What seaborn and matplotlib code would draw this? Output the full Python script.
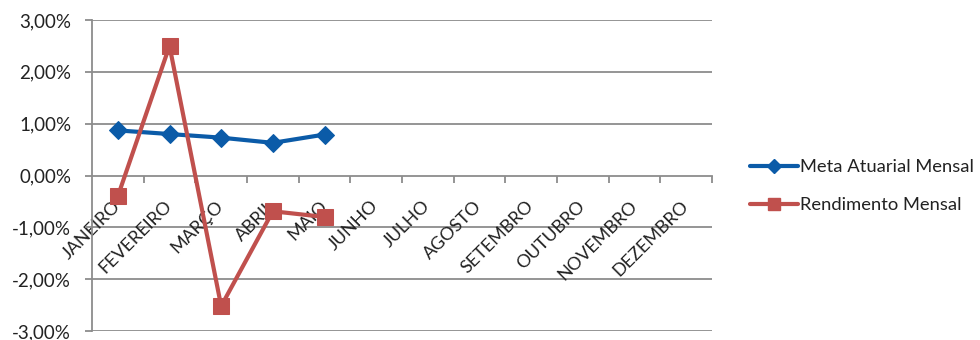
import numpy as np
import pandas as pd
import matplotlib
matplotlib.use("Agg")
import matplotlib.pyplot as plt
from matplotlib.ticker import FixedLocator, FuncFormatter
import seaborn as sns

meses = ["JANEIRO", "FEVEREIRO", "MARÇO", "ABRIL", "MAIO", "JUNHO", "JULHO",
         "AGOSTO", "SETEMBRO", "OUTUBRO", "NOVEMBRO", "DEZEMBRO"]
meta_atuarial = [0.87, 0.80, 0.73, 0.63, 0.79]
rendimento = [-0.40, 2.50, -2.52, -0.69, -0.80]
series_nomes = ["Meta Atuarial Mensal", "Rendimento Mensal"]
y_ticks = [-3, -2, -1, 0, 1, 2, 3]

sns.set_theme(style="white")
plt.rcParams["font.family"] = ["Lato", "DejaVu Sans"]

df = pd.concat([
    pd.DataFrame({"pos": np.arange(len(meta_atuarial)), "valor": meta_atuarial,
                  "serie": series_nomes[0]}),
    pd.DataFrame({"pos": np.arange(len(rendimento)), "valor": rendimento,
                  "serie": series_nomes[1]}),
], ignore_index=True)

fig = plt.figure(figsize=(9.8, 3.4), dpi=100)
ax = fig.add_axes([92 / 980, 9 / 340, 620 / 980, 311 / 340])

cores = {series_nomes[0]: "#0B5BA8", series_nomes[1]: "#C0504D"}
marcadores = {series_nomes[0]: "D", series_nomes[1]: "s"}
ax.grid(False)
for y in y_ticks:
    if y != 0:
        ax.axhline(y, color="#8C8C8C", lw=1.3, zorder=0)

sns.lineplot(data=df, x="pos", y="valor", hue="serie", style="serie",
             palette=cores, markers=marcadores, dashes=False, sort=False,
             linewidth=3, markersize=0, ax=ax, legend=False)
for ln, nome in zip(ax.get_lines()[-2:], series_nomes):
    ln.set_marker(marcadores[nome])
    ln.set_markersize(9.5 if nome == series_nomes[0] else 12)
    ln.set_markeredgecolor(cores[nome])
    ln.set_markerfacecolor(cores[nome])
    ln.set_zorder(3)

ax.set_xlim(-0.5, len(meses) - 0.5)
ax.set_ylim(-3, 3)
ax.set_xlabel("")
ax.set_ylabel("")

for s in ["top", "right"]:
    ax.spines[s].set_visible(False)
ax.spines["left"].set_color("#8C8C8C")
ax.spines["left"].set_linewidth(1.3)
ax.spines["bottom"].set_position(("data", 0))
ax.spines["bottom"].set_color("#8C8C8C")
ax.spines["bottom"].set_linewidth(1.3)

ax.yaxis.set_major_locator(FixedLocator(y_ticks))
ax.yaxis.set_major_formatter(FuncFormatter(lambda v, p: f"{v:.2f}%".replace(".", ",")))
ax.tick_params(axis="y", which="major", left=True, length=5, width=1.3,
               color="#8C8C8C", labelsize=13.5, labelcolor="#222222", pad=10)

ax.set_xticks(np.arange(len(meses)))
ax.set_xticklabels(meses, rotation=45, ha="right", va="center",
                   rotation_mode="anchor", fontsize=13, color="#222222")
ax.xaxis.set_minor_locator(FixedLocator(np.arange(0.5, len(meses), 1.0)))
ax.tick_params(axis="x", which="major", bottom=True, length=0, pad=20)
ax.tick_params(axis="x", which="minor", bottom=True, length=5, width=1.3,
               color="#8C8C8C")

handles = [plt.Line2D([], [], color=cores[n], lw=3, marker=marcadores[n],
                      markersize=7 if n == series_nomes[0] else 9)
           for n in series_nomes]
fig.legend(handles, series_nomes, loc="center left",
           bbox_to_anchor=(733 / 980, 1 - 186 / 340), frameon=False, fontsize=13.2,
           handlelength=2.65, handletextpad=0.1, labelspacing=1.2,
           labelcolor="#222222")

fig.savefig("out.png", dpi=100)
